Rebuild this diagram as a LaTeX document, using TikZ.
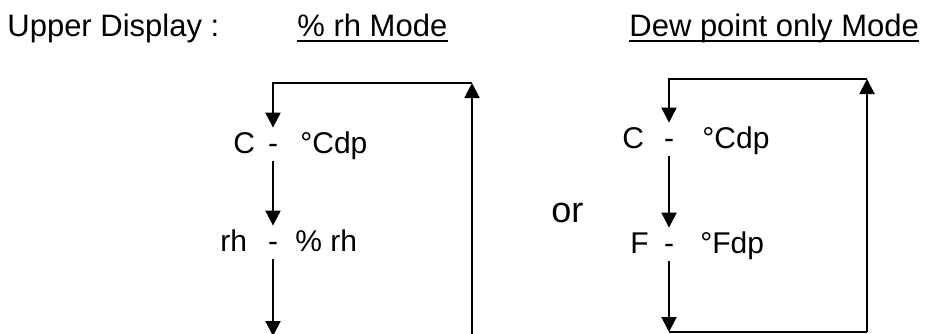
\documentclass[tikz,border=0pt]{standalone}
\usepackage{fontspec}
\setmainfont{Liberation Sans}
\usetikzlibrary{arrows.meta}

\tikzset{
  txt/.style={inner sep=0pt, anchor=base west, font=\fontsize{15}{18}\selectfont},
  head/.style={inner sep=0pt, anchor=base west, font=\fontsize{15.5}{18}\selectfont},
  sep/.style={inner sep=0pt, anchor=base, text height=12.5pt, text depth=4pt, font=\fontsize{15}{18}\selectfont},
  flow/.style={line width=1pt, -{Triangle[length=7.5pt,width=7.5pt]}},
  wire/.style={line width=0.8pt},
  uline/.style={line width=1pt}
}

\begin{document}
\begin{tikzpicture}[x=0.5pt,y=-0.5pt]
            \clip (0,0) rectangle (929,333);

            % headings
            \node[head] at (7,36) (hup) {Upper Display :};
            \node[head] at (297,36) (hrh) {\% rh Mode};
            \node[head] at (629,36) (hdew) {Dew point only Mode};
            \draw[uline] ([yshift=-2.5pt]hrh.base west) -- ([yshift=-2.5pt]hrh.base east);
            \draw[uline] ([yshift=-2.5pt]hdew.base west) -- ([yshift=-2.5pt]hdew.base east);

            % rh mode
            \node[txt] at (233,153) (lc) {C};
            \node[sep] at (273,153) (lsep1) {-};
            \node[txt] at (300,153) (lcdp) {°Cdp};
            \node[txt] at (220,251) (lrh) {rh};
            \node[sep] at (273,251) (lsep2) {-};
            \node[txt] at (295,251) (lprh) {\% rh};
            \coordinate (ltop) at (273,83);
            \coordinate (ltr) at (472,83);
            \coordinate (lbr) at (472,336);
            \coordinate (lbot) at (273,336);

            \draw[flow] (ltr) -- (ltop) -- (lsep1.north);
            \draw[flow] (lsep1.south) -- (lsep2.north);
            \draw[flow] (lsep2.south) -- (lbot);
            \draw[wire] (lbot) -- (lbr);
            \draw[flow] (lbr) -- (ltr);

            \node[inner sep=0pt, anchor=base west, font=\fontsize{18}{21}\selectfont] at (551,222) (or) {or};

            % dew point only mode
            \node[txt] at (622,148) (rc) {C};
            \node[sep] at (669,148) (rsep1) {-};
            \node[txt] at (702,148) (rcdp) {°Cdp};
            \node[txt] at (630,253) (rf) {F};
            \node[sep] at (669,253) (rsep2) {-};
            \node[txt] at (700,253) (rfdp) {°Fdp};
            \coordinate (rtop) at (669,79);
            \coordinate (rtr) at (867,79);
            \coordinate (rbr) at (867,332);
            \coordinate (rbot) at (669,332);

            \draw[flow] (rtr) -- (rtop) -- (rsep1.north);
            \draw[flow] (rsep1.south) -- (rsep2.north);
            \draw[flow] (rsep2.south) -- (rbot);
            \draw[wire] (rbot) -- (rbr);
            \draw[flow] (rbr) -- (rtr);
        \end{tikzpicture}
\end{document}
